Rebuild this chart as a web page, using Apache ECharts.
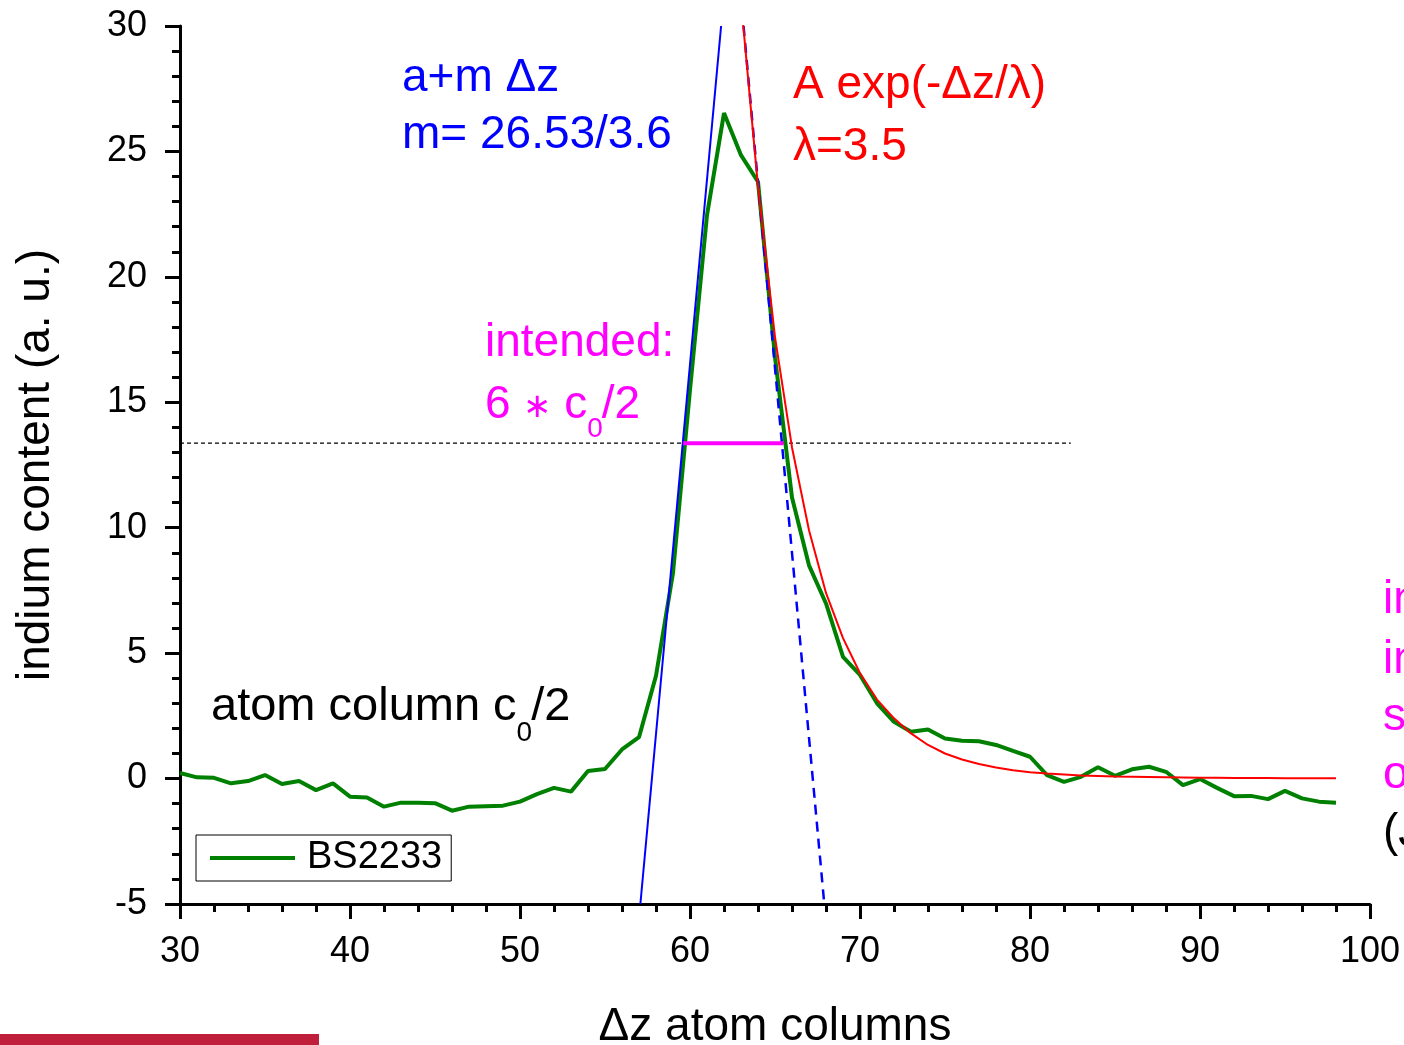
<!DOCTYPE html>
<html>
<head>
<meta charset="utf-8">
<script src="https://cdn.jsdelivr.net/npm/echarts@6/dist/echarts.min.js"></script>
<style>
html, body { margin: 0; padding: 0; background: #fff; }
#chart { width: 1404px; height: 1045px; }
</style>
</head>
<body>
<div id="chart"></div>
<script>
var FONT = '"Liberation Sans", Arial, sans-serif';

// measured indium profile BS2233 (x = Δz in atom columns)
var zValues = [30, 31, 32, 33, 34, 35, 36, 37, 38, 39, 40, 41, 42, 43, 44, 45, 46, 47, 48, 49,
               50, 51, 52, 53, 54, 55, 56, 57, 58, 59, 60, 61, 62, 63, 64, 65, 66, 67, 68, 69,
               70, 71, 72, 73, 74, 75, 76, 77, 78, 79, 80, 81, 82, 83, 84, 85, 86, 87, 88, 89,
               90, 91, 92, 93, 94, 95, 96, 97, 98];
var bs2233 = [0.22, 0.05, 0.03, -0.19, -0.1, 0.14, -0.22, -0.1, -0.46, -0.19,
              -0.72, -0.75, -1.12, -0.96, -0.96, -0.98, -1.28, -1.12, -1.1, -1.08,
              -0.92, -0.62, -0.37, -0.52, 0.3, 0.38, 1.16, 1.65, 4.1, 8.2,
              15.5, 22.46, 26.53, 24.85, 23.79, 16.8, 11.2, 8.5, 6.98, 4.85,
              4.13, 3.0, 2.26, 1.87, 1.96, 1.6, 1.51, 1.49, 1.34, 1.1,
              0.87, 0.14, -0.13, 0.07, 0.45, 0.11, 0.37, 0.47, 0.27, -0.26,
              -0.02, -0.37, -0.7, -0.69, -0.82, -0.49, -0.79, -0.92, -0.96];

// exponential decay fit (red)
var fitZ = [63, 64, 65, 66, 67, 68, 69, 70, 71, 72, 73, 74, 75, 76, 77, 78, 79, 80,
            81, 82, 83, 84, 85, 86, 87, 88, 89, 90, 91, 92, 93, 94, 95, 96, 97, 98];
var fitExp = [31.0, 23.6, 17.6, 13.2, 9.9, 7.4, 5.6, 4.2, 3.15, 2.4, 1.8, 1.34, 1.0, 0.76, 0.58, 0.44, 0.33, 0.25,
              0.2, 0.16, 0.12, 0.1, 0.08, 0.07, 0.06, 0.05, 0.04, 0.03, 0.03, 0.02, 0.02, 0.02, 0.01, 0.01, 0.01, 0.01];

// linear flank fits (blue)
var riseZ = [57.08, 61.83];
var riseVal = [-5, 30];
var fallZ = [63.15, 67.9];
var fallVal = [30, -5];

// half-height level and intended width
var levelZ = [30, 82.4];
var levelVal = [13.37, 13.37];
var widthZ = [59.6, 65.5];
var widthVal = [13.37, 13.37];

function pairs(xs, ys) {
    var out = [];
    for (var i = 0; i < xs.length; i++) out.push([xs[i], ys[i]]);
    return out;
}

var measureCtx = document.createElement('canvas').getContext('2d');
function textWidth(str, size) {
    measureCtx.font = size + 'px ' + FONT;
    return measureCtx.measureText(str).width;
}

function label(x, y, str, color, size) {
    return {
        type: 'text', x: x, y: y, z: 100,
        style: {
            text: str, fill: color, font: size + 'px ' + FONT,
            textAlign: 'left', textVerticalAlign: 'middle',
            align: 'left', verticalAlign: 'middle'
        }
    };
}

// a line of text built from pieces [text, size, dy, extraGap] laid left to right
function pieces(x, y, parts, color) {
    var out = [], cx = x;
    parts.forEach(function (p) {
        out.push(label(cx, y + (p[2] || 0), p[0], color, p[1]));
        cx += textWidth(p[0], p[1]) + (p[3] || 0);
    });
    return out;
}

var graphics = [
    label(402, 78, 'a+m \u0394z', '#0000ff', 46),
    label(402, 135, 'm= 26.53/3.6', '#0000ff', 46),
    label(793, 85, 'A exp(-\u0394z/\u03bb)', '#ff0000', 46),
    label(793, 147, '\u03bb=3.5', '#ff0000', 46),
    label(485, 343, 'intended:', '#ff00ff', 46),
    label(1383, 600, 'in', '#ff00ff', 46),
    label(1383, 660, 'in', '#ff00ff', 46),
    label(1383, 717, 's', '#ff00ff', 46),
    label(1383, 775, 'o', '#ff00ff', 46),
    label(1383, 833, '(J', '#000000', 46),
    {
        type: 'rect', z: 100,
        shape: { x: 0, y: 1034, width: 319, height: 11 },
        style: { fill: '#c01f3c' }
    }
];
graphics = graphics.concat(pieces(485, 405, [
    ['6 ', 46], ['\u2217', 34, 3], [' c', 46], ['0', 28, 24, -1], ['/2', 46]
], '#ff00ff'));
graphics = graphics.concat(pieces(211, 707, [
    ['atom column c', 47], ['0', 28, 26, -1], ['/2', 47]
], '#000000'));

var chart = echarts.init(document.getElementById('chart'), null, { renderer: 'canvas' });

var axisCommon = {
    type: 'value',
    nameLocation: 'middle',
    nameTextStyle: { fontFamily: FONT, fontSize: 46, color: '#000' },
    axisLine: { show: true, onZero: false, lineStyle: { color: '#000', width: 3 } },
    axisTick: { show: true, inside: false, length: 15, lineStyle: { color: '#000', width: 3 } },
    minorTick: { show: true, splitNumber: 5, length: 8, lineStyle: { color: '#000', width: 3 } },
    splitLine: { show: false },
    minorSplitLine: { show: false }
};

var option = {
    animation: false,
    backgroundColor: '#fff',
    grid: { left: 180, top: 26, right: 34, bottom: 141, containLabel: false, outerBoundsMode: 'none' },
    legend: {
        left: 196, top: 835,
        orient: 'horizontal',
        data: ['BS2233'],
        icon: 'rect',
        itemWidth: 85, itemHeight: 4,
        padding: [4, 9, 4, 14],
        borderColor: '#000', borderWidth: 1,
        textStyle: { fontFamily: FONT, fontSize: 38, color: '#000', padding: [0, 0, 0, 7] }
    },
    xAxis: Object.assign({}, axisCommon, {
        min: 30, max: 100, interval: 10,
        name: '\u0394z atom columns',
        nameGap: 100,
        axisLabel: { fontFamily: FONT, fontSize: 36, color: '#000', margin: 30 }
    }),
    yAxis: Object.assign({}, axisCommon, {
        min: -5, max: 30, interval: 5,
        name: 'indium content (a. u.)',
        nameGap: 121,
        axisLabel: { fontFamily: FONT, fontSize: 36, color: '#000', margin: 33 }
    }),
    graphic: graphics,
    series: [
        {
            name: 'BS2233', type: 'line', symbol: 'none', clip: true, z: 2,
            lineStyle: { color: '#008000', width: 4 },
            itemStyle: { color: '#008000' },
            data: pairs(zValues, bs2233)
        },
        {
            name: 'rise', type: 'line', symbol: 'none', clip: true, z: 3,
            lineStyle: { color: '#0000ff', width: 2 },
            data: pairs(riseZ, riseVal)
        },
        {
            name: 'fall', type: 'line', symbol: 'none', clip: true, z: 3,
            lineStyle: { color: '#0000ff', width: 2.5, type: [10, 7] },
            data: pairs(fallZ, fallVal)
        },
        {
            name: 'exp', type: 'line', symbol: 'none', clip: true, z: 4,
            lineStyle: { color: '#ff0000', width: 2 },
            data: pairs(fitZ, fitExp)
        },
        {
            name: 'level', type: 'line', symbol: 'none', clip: true, z: 1,
            lineStyle: { color: '#000', width: 1.2, type: [4, 3] },
            data: pairs(levelZ, levelVal)
        },
        {
            name: 'intended', type: 'line', symbol: 'none', clip: true, z: 5,
            lineStyle: { color: '#ff00ff', width: 4 },
            data: pairs(widthZ, widthVal)
        }
    ]
};

chart.setOption(option);
</script>
</body>
</html>
